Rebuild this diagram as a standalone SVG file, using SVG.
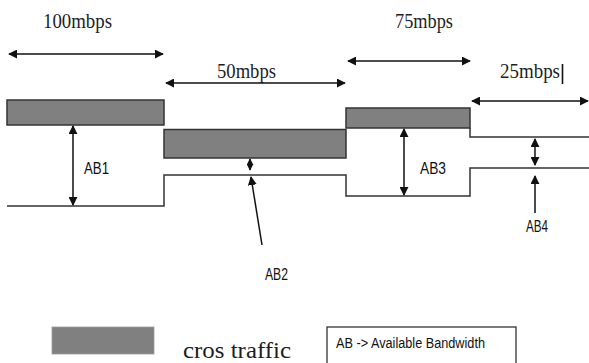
<svg xmlns="http://www.w3.org/2000/svg" width="589" height="363" viewBox="0 0 589 363">
<style>
.ln{fill:none;stroke:#333;stroke-width:1.5}
.ar{fill:none;stroke:#111;stroke-width:1.5}
.ct{fill:#808080;stroke:#333;stroke-width:1.5}
.rate{font-family:"Liberation Serif","Times New Roman",serif;font-size:20px;fill:#1d1d24}
.ab{font-family:"Liberation Sans",Arial,sans-serif;font-size:16px;fill:#111}
</style>
<defs>
<marker id="ah" viewBox="0 0 10 10" refX="9" refY="5" markerWidth="9" markerHeight="9" markerUnits="userSpaceOnUse" orient="auto-start-reverse">
<path d="M0,0 L10,5 L0,10 z" fill="#111"/>
</marker>
<marker id="ahs" viewBox="0 0 10 10" refX="9" refY="5" markerWidth="7" markerHeight="7" markerUnits="userSpaceOnUse" orient="auto-start-reverse">
<path d="M0,0 L10,5 L0,10 z" fill="#111"/>
</marker>
</defs>
<rect width="589" height="363" fill="#fff"/>
<g id="channel">
<rect class="ct" x="7" y="100" width="157" height="25"/>
<rect class="ct" x="164" y="129.5" width="182" height="28.5"/>
<rect class="ct" x="346" y="108" width="124" height="20"/>
<path class="ln" d="M470,128 V137 H589"/>
<path class="ln" d="M7,206 H164 V175 H346 V196 H470 V168 H589"/>
</g>
<g id="connectors">
<line class="ar" x1="9" y1="54" x2="163" y2="54" marker-start="url(#ah)" marker-end="url(#ah)"/>
<line class="ar" x1="166" y1="83" x2="345" y2="83" marker-start="url(#ah)" marker-end="url(#ah)"/>
<line class="ar" x1="348" y1="61" x2="470" y2="61" marker-start="url(#ah)" marker-end="url(#ah)"/>
<line class="ar" x1="472" y1="101" x2="588" y2="101" marker-start="url(#ah)" marker-end="url(#ah)"/>
<line class="ar" x1="73" y1="126" x2="73" y2="205" marker-start="url(#ah)" marker-end="url(#ah)"/>
<line class="ar" x1="250" y1="159" x2="250" y2="170" marker-start="url(#ahs)" marker-end="url(#ahs)"/>
<line class="ar" x1="262" y1="245" x2="251" y2="177" marker-end="url(#ah)"/>
<line class="ar" x1="404" y1="129" x2="404" y2="195" marker-start="url(#ah)" marker-end="url(#ah)"/>
<line class="ar" x1="535" y1="139" x2="535" y2="165" marker-start="url(#ah)" marker-end="url(#ah)"/>
<line class="ar" x1="535" y1="213" x2="535" y2="176" marker-end="url(#ah)"/>
</g>
<g id="rates">
<text class="rate" x="43" y="28" textLength="69" lengthAdjust="spacingAndGlyphs">100mbps</text>
<text class="rate" x="217" y="78" textLength="59" lengthAdjust="spacingAndGlyphs">50mbps</text>
<text class="rate" x="395" y="28" textLength="58" lengthAdjust="spacingAndGlyphs">75mbps</text>
<text class="rate" x="500" y="78" textLength="60" lengthAdjust="spacingAndGlyphs">25mbps</text>
<line x1="562.5" y1="64" x2="562.5" y2="84" stroke="#111" stroke-width="1.6"/>
</g>
<g id="ab-labels">
<text class="ab" x="84" y="173.5" textLength="25" lengthAdjust="spacingAndGlyphs">AB1</text>
<text class="ab" x="265" y="280" textLength="23" lengthAdjust="spacingAndGlyphs">AB2</text>
<text class="ab" x="420" y="173.5" textLength="26" lengthAdjust="spacingAndGlyphs">AB3</text>
<text class="ab" x="526" y="232" textLength="22" lengthAdjust="spacingAndGlyphs">AB4</text>
</g>
<g id="legend">
<rect x="52" y="327" width="102" height="27" fill="#808080" stroke="#9a9a9a" stroke-width="0.8"/>
<text x="183" y="358" font-family="'Liberation Serif','Times New Roman',serif" font-size="23" fill="#1d1d1d" textLength="108" lengthAdjust="spacingAndGlyphs">cros traffic</text>
<rect x="327" y="327" width="189" height="40" fill="#fff" stroke="#333" stroke-width="1.3"/>
<text x="336" y="348" font-family="'Liberation Sans',Arial,sans-serif" font-size="14" fill="#111" textLength="149" lengthAdjust="spacingAndGlyphs">AB -&gt; Available Bandwidth</text>
</g>
</svg>
